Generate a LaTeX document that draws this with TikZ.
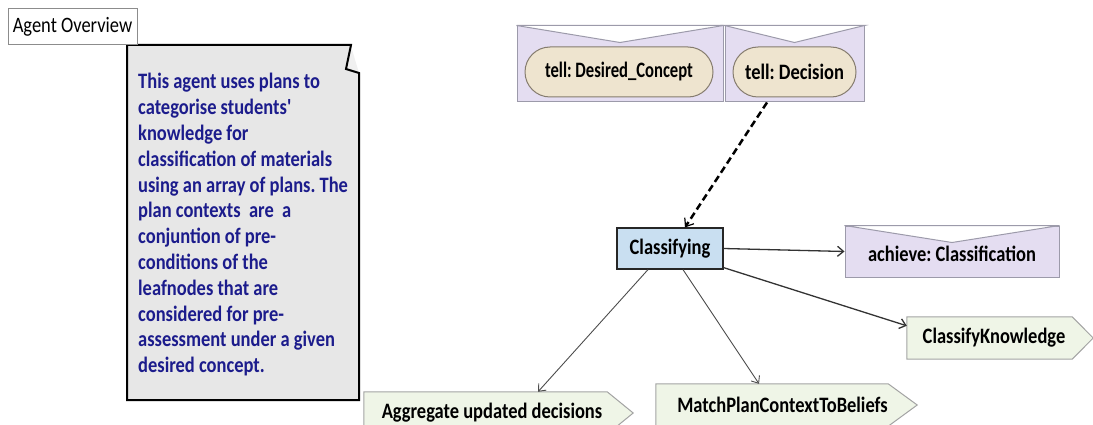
\documentclass[tikz,border=0pt]{standalone}
\usepackage{fontspec}
\newfontfamily\dfont{Carlito}[FakeStretch=0.84]
\usetikzlibrary{arrows.meta,backgrounds}
\definecolor{goalfill}{HTML}{E4DDF1}
\definecolor{goalline}{HTML}{9C9AAA}
\definecolor{msgfill}{HTML}{EEE4CF}
\definecolor{msgline}{HTML}{857C6E}
\definecolor{clfill}{HTML}{C9DFF1}
\definecolor{planfill}{HTML}{EFF5E7}
\definecolor{planline}{HTML}{A3A3A3}
\definecolor{notefill}{HTML}{E7E7E7}
\definecolor{notetext}{HTML}{1C1C8C}
\definecolor{aoline}{HTML}{8C8C8C}
\begin{document}
\frenchspacing
\begin{tikzpicture}[x=1pt,y=-1pt,
  font=\dfont\fontsize{22}{25}\selectfont,
  aobox/.style={draw=aoline,fill=white,line width=1pt,minimum width=129pt,minimum height=36pt,inner sep=0pt},
  goalbox/.style={draw=goalline,fill=goalfill,line width=1pt,inner sep=0pt},
  vmark/.style={draw=goalline,fill=white,line width=1pt},
  msgbox/.style={draw=msgline,fill=msgfill,line width=1pt,rounded corners=25pt,minimum height=50pt,inner sep=0pt,font=\dfont\bfseries\fontsize{22}{25}\selectfont},
  capbox/.style={draw=black!85,fill=clfill,line width=1.2pt,minimum width=106pt,minimum height=41pt,inner sep=0pt,font=\dfont\bfseries\fontsize{22}{25}\selectfont},
  planbox/.style={minimum height=42pt,inner sep=0pt,font=\dfont\bfseries\fontsize{22}{25}\selectfont},
  planshape/.style={draw=planline,fill=planfill,line width=1pt},
  goaltext/.style={font=\dfont\bfseries\fontsize{22}{25}\selectfont},
  darkarrow/.style={draw=black!80,line width=1.3pt,-{Straight Barb[length=6pt,width=10pt]}},
  lightarrow/.style={draw=black!70,line width=0.9pt,-{Straight Barb[length=6pt,width=10pt]}},
  dasharrow/.style={draw=black,line width=2.5pt,dash pattern=on 7pt off 4pt,-{Straight Barb[length=7pt,width=11pt,line width=1.2pt]}}
]
\useasboundingbox (0,0) rectangle (1093,425);

% note shape
\fill[black!6] (351,46) -- (359,73) -- (346,69) -- cycle;
\draw[fill=notefill,line width=2pt,line join=miter] (127,45) -- (351,45) -- (346,69) -- (359,73) -- (359,400) -- (127,400) -- cycle;
\node[anchor=base west,inner sep=0pt,text=notetext,font=\dfont\bfseries\fontsize{22}{25.8}\selectfont] (note) at (138,89)
 {\parbox[t]{230pt}{This agent uses plans to\\
categorise students'\\
knowledge for\\
classification of materials\\
using an array of plans. The\\
plan contexts \ are \ a\\
conjuntion of pre-\\
conditions of the\\
leafnodes that are\\
considered for pre-\\
assessment under a given\\
desired concept.}};

\node[aobox] (ao) at (72.5,27) {Agent Overview};

% goals with messages
\node[goalbox,minimum width=206pt,minimum height=76pt] (g1) at (620,64) {};
\node[goalbox,minimum width=139pt,minimum height=76pt] (g2) at (794.5,64) {};
\draw[vmark] (g1.north west) -- ([yshift=-17pt]g1.north) -- (g1.north east) -- cycle;
\draw[vmark] (g2.north west) -- ([yshift=-17pt]g2.north) -- (g2.north east) -- cycle;
\node[msgbox,minimum width=188pt] (m1) at (619,72) {\scalebox{0.9}[1]{tell: Desired\_Concept}};
\node[msgbox,minimum width=123pt] (m2) at (794.5,72) {tell: Decision};

% capability
\node[capbox] (cl) at (670,248.5) {Classifying};

% achieve goal
\node[goalbox,goaltext,minimum width=214pt,minimum height=51pt,text height=25.5pt,text depth=5pt] (ach) at (952,251.5) {achieve: Classification};
\draw[vmark] (ach.north west) -- ([yshift=-17pt]ach.north) -- (ach.north east) -- cycle;

% plans
\node[planbox,minimum width=165pt] (ck) at (989.5,338) {\hspace*{9pt}ClassifyKnowledge};
\node[planbox,minimum width=232pt] (mp) at (772,405) {\hspace*{21pt}MatchPlanContextToBeliefs};
\node[planbox,minimum width=243pt] (agg) at (485.5,413) {\hspace*{13pt}Aggregate updated decisions};
\begin{scope}[on background layer]
\draw[planshape] (ck.north west) -- (ck.north east) -- ([xshift=21pt]ck.east) -- (ck.south east) -- (ck.south west) -- cycle;
\draw[planshape] (mp.north west) -- (mp.north east) -- ([xshift=29pt]mp.east) -- (mp.south east) -- (mp.south west) -- cycle;
\draw[planshape] (agg.north west) -- (agg.north east) -- ([xshift=26pt]agg.east) -- (agg.south east) -- (agg.south west) -- cycle;
\end{scope}

% connectors
\draw[dasharrow] ([xshift=-27.5pt]g2.south) -- ([xshift=15pt]cl.north);
\draw[darkarrow] (cl.east) -- (ach.west);
\draw[darkarrow] ([yshift=2pt]cl.south east) -- ([yshift=-9pt]ck.north west);
\draw[lightarrow] ([xshift=-22pt]cl.south) -- ([xshift=52.5pt]agg.north);
\draw[lightarrow] ([xshift=13pt]cl.south) -- ([xshift=-13pt]mp.north);
\end{tikzpicture}
\end{document}
